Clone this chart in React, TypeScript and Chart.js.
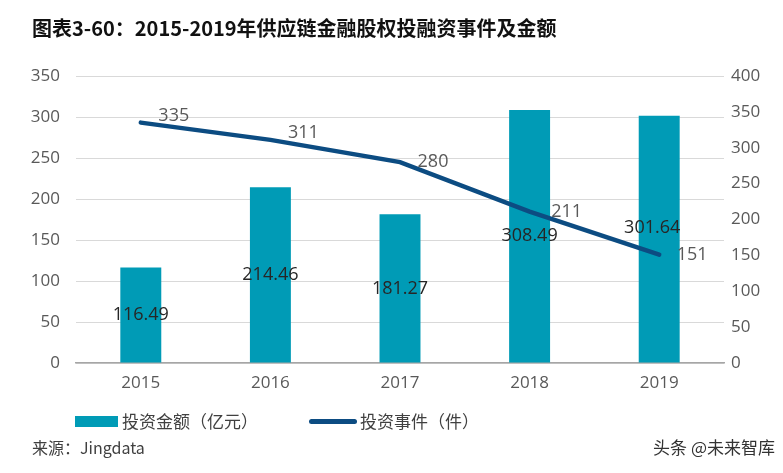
import React, { useEffect, useRef } from "react";
import { Chart, registerables } from "chart.js";

Chart.register(...registerables);

const categories = ["2015", "2016", "2017", "2018", "2019"];
const amountValues = [116.49, 214.46, 181.27, 308.49, 301.64];
const eventValues = [335, 311, 280, 211, 151];
const leftTicks = [0, 50, 100, 150, 200, 250, 300, 350];
const rightTicks = [0, 50, 100, 150, 200, 250, 300, 350, 400];

const titleText = "图表3-60：2015-2019年供应链金融股权投融资事件及金额";
const amountName = "投资金额（亿元）";
const eventName = "投资事件（件）";
const sourceText = "来源：Jingdata";
const watermarkText = "头条 @未来智库";

const BAR_COLOR = "#009BB6";
const LINE_COLOR = "#0C4C82";
const TICK_COLOR = "#595959";
const LATIN = "'Open Sans', 'Noto Sans CJK SC', sans-serif";
const CJK = "'Noto Sans CJK SC', 'Open Sans', sans-serif";

// label offsets (styling)
const barLabelShift = [[0, 0], [0, 0], [0, 0], [0, 0], [-7, -11]];
const lineLabelShift = [[33, -7], [33, -7], [33, 0], [37, 0], [33, 0]];

const labelPlugin = {
  id: "valueLabels",
  afterDatasetsDraw(chart: any) {
    const ctx = chart.ctx;
    ctx.save();
    ctx.textAlign = "center";
    ctx.textBaseline = "middle";
    const barMeta = chart.getDatasetMeta(1);
    ctx.font = `18px ${LATIN}`;
    ctx.fillStyle = "#262626";
    barMeta.data.forEach((el: any, i: number) => {
      const [dx, dy] = barLabelShift[i];
      ctx.fillText(amountValues[i].toFixed(2), el.x + dx, (el.y + el.base) / 2 + dy);
    });
    const lineMeta = chart.getDatasetMeta(0);
    ctx.fillStyle = TICK_COLOR;
    lineMeta.data.forEach((el: any, i: number) => {
      const [dx, dy] = lineLabelShift[i];
      ctx.fillText(String(eventValues[i]), el.x + dx, el.y + dy);
    });
    ctx.restore();
  },
};

export default function App() {
  const canvasRef = useRef<HTMLCanvasElement | null>(null);

  useEffect(() => {
    document.body.style.margin = "0";
    const canvas = canvasRef.current;
    if (!canvas) return;
    const chart = new Chart(canvas, {
      type: "bar",
      data: {
        labels: categories,
        datasets: [
          {
            type: "line",
            label: eventName,
            data: eventValues,
            yAxisID: "y1",
            borderColor: LINE_COLOR,
            backgroundColor: LINE_COLOR,
            borderWidth: 4.5,
            pointRadius: 0,
            tension: 0,
            borderCapStyle: "round",
            order: 0,
          } as any,
          {
            type: "bar",
            label: amountName,
            data: amountValues,
            yAxisID: "y",
            backgroundColor: BAR_COLOR,
            barPercentage: 0.316,
            categoryPercentage: 1,
            order: 1,
          },
        ],
      },
      options: {
        responsive: false,
        animation: false,
        layout: { padding: { top: 76, left: 0, right: 0, bottom: 0 } },
        plugins: {
          legend: { display: false },
          tooltip: { enabled: false },
          title: { display: false },
        },
        scales: {
          x: {
            grid: { display: false, drawTicks: false },
            border: { display: true, color: "#A6A6A6", width: 1.5 },
            ticks: {
              color: TICK_COLOR,
              font: { family: LATIN, size: 17 },
              padding: 10,
            },
            afterFit(scale: any) {
              scale.height = 110;
            },
          },
          y: {
            position: "left",
            min: 0,
            max: 350,
            afterBuildTicks(scale: any) {
              scale.ticks = leftTicks.map((v) => ({ value: v }));
            },
            grid: { color: "#D9D9D9", lineWidth: 1, drawTicks: false },
            border: { display: false },
            ticks: {
              color: TICK_COLOR,
              font: { family: LATIN, size: 17 },
              padding: 16,
            },
            afterFit(scale: any) {
              scale.width = 76;
            },
          },
          y1: {
            position: "right",
            min: 0,
            max: 400,
            afterBuildTicks(scale: any) {
              scale.ticks = rightTicks.map((v) => ({ value: v }));
            },
            grid: { display: false, drawTicks: false },
            border: { display: false },
            ticks: {
              color: TICK_COLOR,
              font: { family: LATIN, size: 17 },
              padding: 7,
            },
            afterFit(scale: any) {
              scale.width = 59;
            },
          },
        },
      },
      plugins: [labelPlugin],
    });
    return () => chart.destroy();
  }, []);

  const abs = (extra: React.CSSProperties): React.CSSProperties => ({
    position: "absolute",
    whiteSpace: "nowrap",
    ...extra,
  });

  return (
    <div style={{ position: "relative", width: 783, height: 473, background: "#fff", overflow: "hidden" }}>
      <canvas ref={canvasRef} width={783} height={473} style={{ position: "absolute", left: 0, top: 0, width: 783, height: 473 }} />
      <div style={abs({ left: 32, top: 14, fontFamily: CJK, fontWeight: 700, fontSize: 20, lineHeight: "28px", color: "#111" })}>
        {titleText}
      </div>
      <div style={abs({ left: 75, top: 416, width: 43, height: 11, background: BAR_COLOR })} />
      <div style={abs({ left: 122, top: 409, fontFamily: CJK, fontSize: 17, lineHeight: "24px", color: "#404040" })}>
        {amountName}
      </div>
      <div style={abs({ left: 309, top: 419, width: 48, height: 5, borderRadius: 3, background: LINE_COLOR })} />
      <div style={abs({ left: 360, top: 409, fontFamily: CJK, fontSize: 17, lineHeight: "24px", color: "#404040" })}>
        {eventName}
      </div>
      <div style={abs({ left: 32, top: 435, fontFamily: CJK, fontSize: 16, lineHeight: "24px", color: "#404040" })}>
        {sourceText}
      </div>
      <div style={abs({ right: 8, top: 435, fontFamily: CJK, fontSize: 17, lineHeight: "24px", color: "#333" })}>
        {watermarkText}
      </div>
    </div>
  );
}
